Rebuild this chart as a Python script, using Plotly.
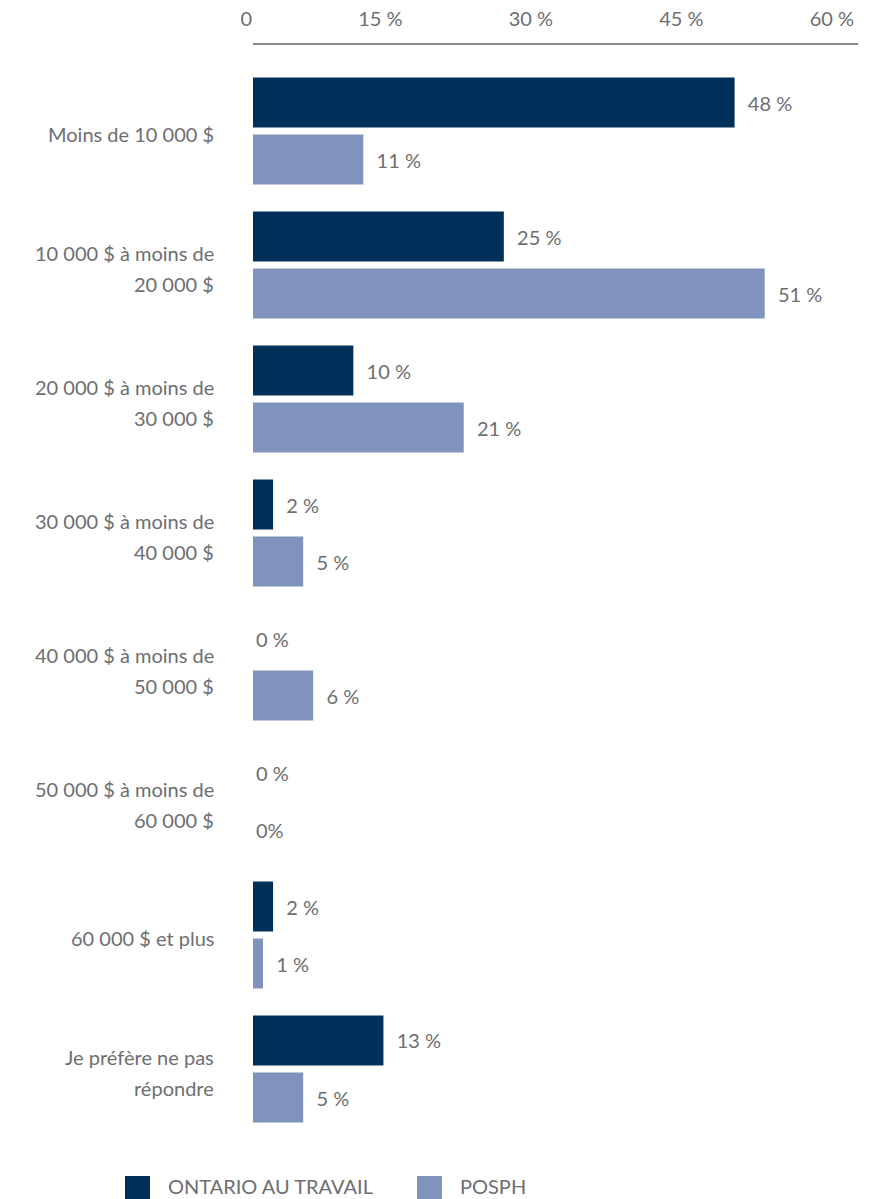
import plotly.graph_objects as go

# Income brackets (two-line labels split with <br>)
categories = [
    "Moins de 10 000 $",
    "10 000 $ à moins de<br>20 000 $",
    "20 000 $ à moins de<br>30 000 $",
    "30 000 $ à moins de<br>40 000 $",
    "40 000 $ à moins de<br>50 000 $",
    "50 000 $ à moins de<br>60 000 $",
    "60 000 $ et plus",
    "Je préfère ne pas<br>répondre",
]
series_names = ["ONTARIO AU TRAVAIL", "POSPH"]
ontario_values = [48, 25, 10, 2, 0, 0, 2, 13]
posph_values = [11, 51, 21, 5, 6, 0, 1, 5]
ontario_labels = ["48 %", "25 %", "10 %", "2 %", "0 %", "0 %", "2 %", "13 %"]
posph_labels = ["11 %", "51 %", "21 %", "5 %", "6 %", "0%", "1 %", "5 %"]
x_tick_values = [0, 15, 30, 45, 60]
x_tick_labels = ["0", "15 %", "30 %", "45 %", "60 %"]

colors = ["#002f5a", "#7f93bd"]
text_color = "#6d6e71"
font_family = "Lato, 'Source Sans Pro', 'Noto Sans', sans-serif"
font_size = 20


def pad(labels, values):
    # a little breathing room between a bar end and its label
    return [("\u00a0\u00a0" + t) if v > 0 else t for t, v in zip(labels, values)]


fig = go.Figure()
for name, vals, labs, col in [
    (series_names[0], ontario_values, ontario_labels, colors[0]),
    (series_names[1], posph_values, posph_labels, colors[1]),
]:
    fig.add_trace(go.Bar(
        y=categories, x=vals, orientation="h", name=name,
        marker=dict(color=col, line=dict(width=0)),
        text=pad(labs, vals), textposition="outside",
        textfont=dict(size=font_size, color=text_color, family=font_family),
        cliponaxis=False, showlegend=False,
    ))

# Category labels, one annotation per line for generous line spacing
line_gap = 31
for cat in categories:
    lines = cat.split("<br>")
    n = len(lines)
    for i, ln in enumerate(lines):
        offset = (n - 1) / 2 * line_gap - i * line_gap
        fig.add_annotation(
            x=0, xref="paper", xanchor="right", xshift=-37,
            y=cat, yref="y", yshift=offset - 3, yanchor="middle",
            text=ln, showarrow=False,
            font=dict(size=font_size, color=text_color, family=font_family),
        )

# Legend drawn as large square swatches with labels below the plot
legend_x = [-128, 164]
for name, col, lx in zip(series_names, colors, legend_x):
    fig.add_shape(
        type="rect", xref="paper", yref="paper",
        xsizemode="pixel", ysizemode="pixel", xanchor=0, yanchor=0,
        x0=lx, x1=lx + 25, y0=-40, y1=-63,
        fillcolor=col, line=dict(width=0),
    )
    fig.add_annotation(
        x=0, xref="paper", xanchor="left", xshift=lx + 42,
        y=0, yref="paper", yanchor="bottom", yshift=-63, borderpad=0,
        text=name, showarrow=False,
        font=dict(size=font_size, color=text_color, family=font_family),
    )

fig.update_layout(
    width=871, height=1199,
    margin=dict(l=253, r=13, t=45, b=63),
    paper_bgcolor="white", plot_bgcolor="white",
    barmode="group", bargap=0.149, bargroupgap=0.123,
    font=dict(family=font_family, size=font_size, color=text_color),
    xaxis=dict(
        side="top", range=[0, 60.3], tickvals=x_tick_values, ticktext=x_tick_labels,
        showgrid=False, zeroline=False, showline=True, linecolor="#8a8a8a",
        linewidth=2, ticks="", ticklabelstandoff=9, automargin=False,
        ticklabelposition="outside left",
        tickfont=dict(size=font_size, color=text_color, family=font_family),
    ),
    yaxis=dict(
        categoryorder="array", categoryarray=categories,
        range=[7.5, -0.642], showticklabels=False, showgrid=False,
        zeroline=False, showline=False, ticks="", automargin=False,
    ),
)

fig.write_html("out.html")
